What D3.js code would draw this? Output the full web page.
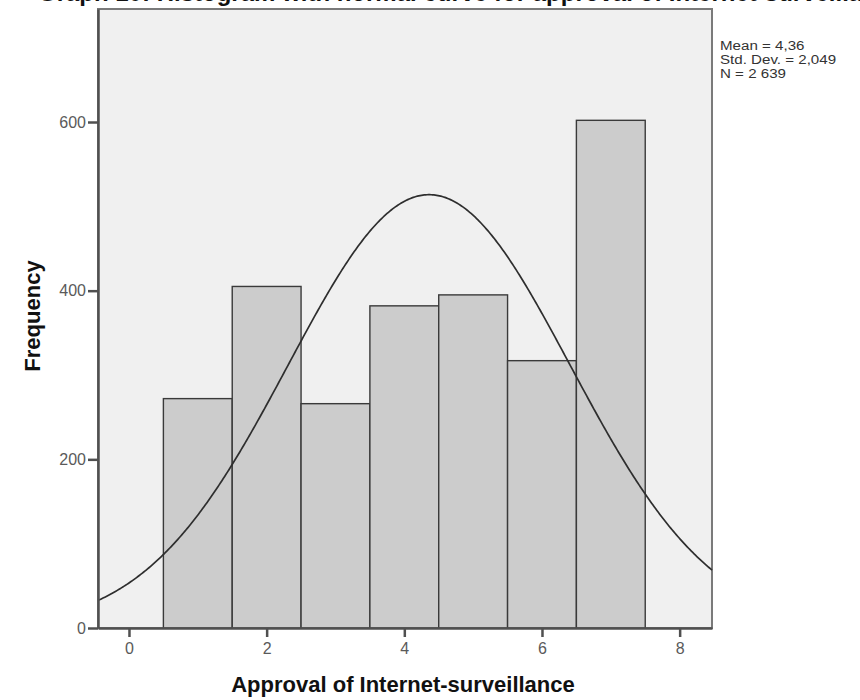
<!DOCTYPE html>
<html>
<head>
<meta charset="utf-8">
<script src="https://cdn.jsdelivr.net/npm/d3@7"></script>
<style>
  html, body { margin: 0; padding: 0; background: #ffffff; }
  svg { display: block; }
</style>
</head>
<body>
<svg id="chart" width="860" height="700"></svg>
<script>
// ---- data ----
const binCenters = [1, 2, 3, 4, 5, 6, 7];
const frequencies = [272, 405, 266, 382, 395, 317, 602];
const xTicks = [0, 2, 4, 6, 8];
const yTicks = [0, 200, 400, 600];
const statLabels = ["Mean = 4,36", "Std. Dev. = 2,049", "N = 2 639"];
const statMean = 4.36;
const statSD = 2.049;
const statN = 2639;
const titleText = "Graph 10: Histogram with normal curve for approval of Internet-surveillance";
const xTitle = "Approval of Internet-surveillance";
const yTitle = "Frequency";

// ---- layout ----
const svg = d3.select("#chart");
const plotL = 98, plotR = 712, plotT = 9, plotB = 628;
const x = d3.scaleLinear().domain([-0.45, 8.47]).range([plotL, plotR]);
const y = d3.scaleLinear().domain([0, 734]).range([plotB, plotT]);
const font = "'Liberation Sans', Arial, sans-serif";

// plot background
svg.append("rect")
  .attr("x", plotL).attr("y", plotT)
  .attr("width", plotR - plotL).attr("height", plotB - plotT)
  .attr("fill", "#f0f0f0")
  .attr("stroke", "#7a7a7a").attr("stroke-width", 2);

// bars
svg.append("g").selectAll("rect")
  .data(binCenters)
  .join("rect")
  .attr("x", d => x(d - 0.5))
  .attr("y", (d, i) => y(frequencies[i]))
  .attr("width", d => x(d + 0.5) - x(d - 0.5))
  .attr("height", (d, i) => y(0) - y(frequencies[i]))
  .attr("fill", "#cccccc")
  .attr("stroke", "#3a3a3a")
  .attr("stroke-width", 1.4);

// normal curve from the stated statistics (mean, sd, N, bin width 1)
const curveXs = d3.range(-0.45, 8.4701, 0.02);
const density = v => statN * 1 / (statSD * Math.sqrt(2 * Math.PI)) *
  Math.exp(-0.5 * Math.pow((v - statMean) / statSD, 2));
svg.append("path")
  .datum(curveXs)
  .attr("d", d3.line().x(d => x(d)).y(d => y(density(d))))
  .attr("fill", "none")
  .attr("stroke", "#2e2e2e")
  .attr("stroke-width", 1.7);

// axes
const xAxis = svg.append("g")
  .attr("transform", `translate(0,${plotB})`)
  .call(d3.axisBottom(x).tickValues(xTicks).tickSize(9).tickPadding(6).tickSizeOuter(0));
const yAxis = svg.append("g")
  .attr("transform", `translate(${plotL},0)`)
  .call(d3.axisLeft(y).tickValues(yTicks).tickSize(10).tickPadding(2).tickSizeOuter(0));
[xAxis, yAxis].forEach(g => {
  g.select(".domain").attr("stroke", "#505050").attr("stroke-width", 2.5);
  g.selectAll(".tick line").attr("stroke", "#505050").attr("stroke-width", 2.5);
  g.selectAll(".tick text")
    .attr("fill", "#5a5a5a")
    .style("font-family", font)
    .style("font-size", "16px");
});

// axis titles
svg.append("text")
  .attr("x", 403).attr("y", 692)
  .attr("text-anchor", "middle")
  .style("font-family", font).style("font-size", "22px").style("font-weight", "bold")
  .attr("fill", "#111")
  .text(xTitle);
svg.append("text")
  .attr("transform", `translate(40,316) rotate(-90)`)
  .attr("text-anchor", "middle")
  .style("font-family", font).style("font-size", "22px").style("font-weight", "bold")
  .attr("fill", "#111")
  .text(yTitle);

// stats
svg.append("g")
  .attr("transform", "translate(720,0) scale(1.12,1)")
  .selectAll("text")
  .data(statLabels)
  .join("text")
  .attr("x", 0)
  .attr("y", (d, i) => 50 + i * 14)
  .style("font-family", font).style("font-size", "13.5px")
  .attr("fill", "#333")
  .text(d => d);

// title (cropped at top in reference)
svg.append("text")
  .attr("x", 38).attr("y", 1)
  .style("font-family", font).style("font-size", "24px").style("font-weight", "bold")
  .attr("fill", "#111")
  .text(titleText);
</script>
</body>
</html>
